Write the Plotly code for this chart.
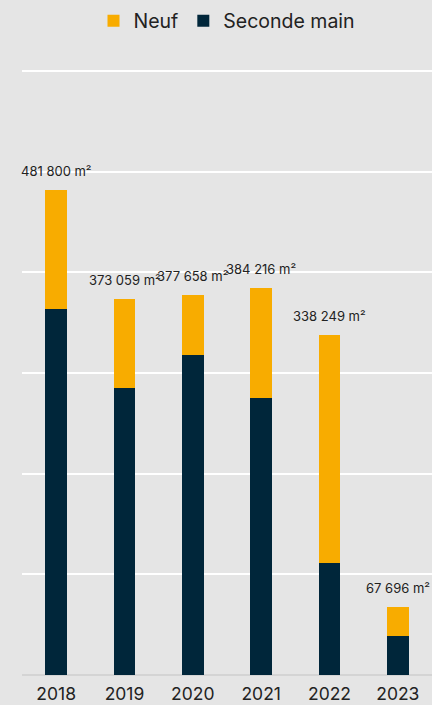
import plotly.graph_objects as go

years = ["2018", "2019", "2020", "2021", "2022", "2023"]
seconde_main = [363600, 285100, 317900, 275200, 111300, 38700]
totals = [481800, 373059, 377658, 384216, 338249, 67696]
neuf = [t - s for t, s in zip(totals, seconde_main)]
total_labels = ["481 800 m²", "373 059 m²", "377 658 m²", "384 216 m²", "338 249 m²", "67 696 m²"]

NAVY = "#00263a"
ORANGE = "#f8ac00"
BG = "#e5e5e5"
FONT = "Inter, Lato, sans-serif"

fig = go.Figure()
fig.add_trace(go.Bar(x=years, y=seconde_main, name="Seconde main", marker_color=NAVY,
                     marker_line_width=0, legendrank=2))
fig.add_trace(go.Bar(x=years, y=neuf, name="Neuf", marker_color=ORANGE,
                     marker_line_width=0, legendrank=1))

# category axis: annotations use the category's serial index
for idx, (tot, lab) in enumerate(zip(totals, total_labels)):
    fig.add_annotation(x=idx, y=tot, xref="x", yref="y", text=lab, showarrow=False,
                       yanchor="bottom", yshift=9,
                       font=dict(family=FONT, size=13, color="#222222"))

fig.update_layout(
    barmode="stack",
    bargap=0.68,
    width=432, height=705,
    paper_bgcolor=BG, plot_bgcolor=BG,
    margin=dict(l=22, r=0, t=69, b=30),
    font=dict(family=FONT, color="#222222"),
    legend=dict(orientation="h", x=0.5, xanchor="center", y=1.079, yanchor="middle",
                font=dict(size=19.5, family=FONT, color="#222222"), traceorder="normal",
                itemwidth=30, bgcolor="rgba(0,0,0,0)"),
    xaxis=dict(type="category", categoryorder="array", categoryarray=years,
               range=[-0.5, len(years) - 0.5], showgrid=False, showline=False, ticks="",
               ticklabelstandoff=6,
               tickfont=dict(size=17.5, family=FONT, color="#222222"), automargin=False),
    yaxis=dict(range=[0, 602000], tick0=0, dtick=100000, showgrid=True, gridcolor="#ffffff", gridwidth=2,
               zeroline=True, zerolinecolor="#d4d4d4", zerolinewidth=2,
               showticklabels=False, automargin=False),
)

fig.write_html("out.html")
